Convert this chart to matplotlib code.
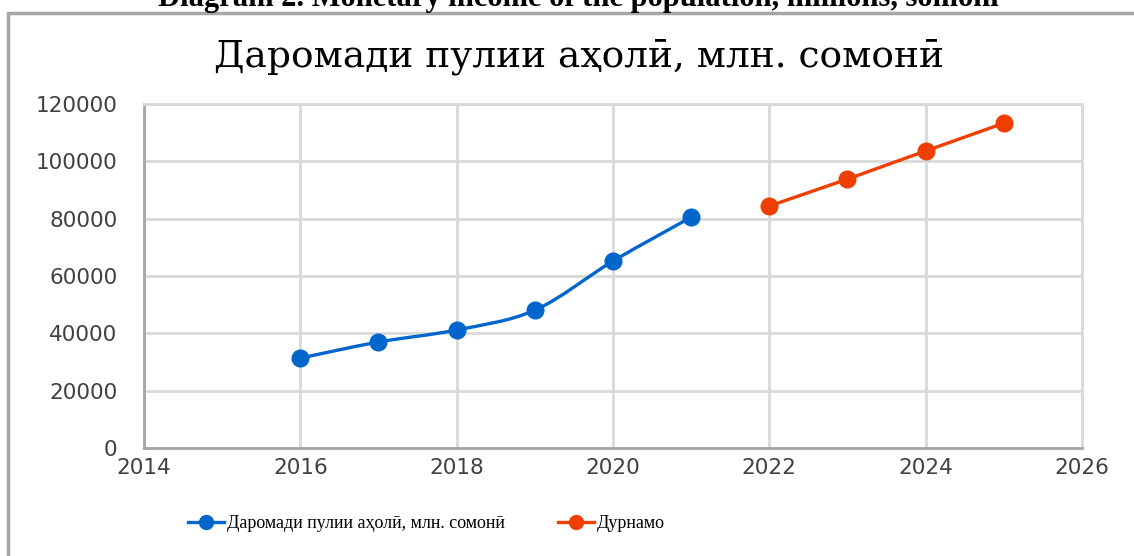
import matplotlib
matplotlib.use("Agg")
import matplotlib.pyplot as plt
from matplotlib.path import Path
from matplotlib.patches import PathPatch, Rectangle
from matplotlib.lines import Line2D

# Data
years_actual = [2016, 2017, 2018, 2019, 2020, 2021]
income_actual = [31400, 37000, 41200, 48100, 65200, 80500]
years_forecast = [2022, 2023, 2024, 2025]
income_forecast = [84400, 93800, 103600, 113300]

x_ticks = [2014, 2016, 2018, 2020, 2022, 2024, 2026]
y_ticks = [0, 20000, 40000, 60000, 80000, 100000, 120000]

title = "Даромади пулии аҳолӣ, млн. сомонӣ"
label_actual = "Даромади пулии аҳолӣ, млн. сомонӣ"
label_forecast = "Дурнамо"
caption = "Diagram 2. Monetary income of the population, millions, somoni"

blue = "#0066CC"
orange = "#EE3F00"
serif = ["DejaVu Serif", "Liberation Serif"]
times = ["Liberation Serif", "DejaVu Serif"]


# Excel style smoothed line: Catmull-Rom segments as cubic Bezier curves
def smooth_path(xs, ys):
    pts = list(zip(xs, ys))
    verts = [pts[0]]
    codes = [Path.MOVETO]
    for i in range(len(pts) - 1):
        p0 = pts[i - 1] if i > 0 else pts[i]
        p1 = pts[i]
        p2 = pts[i + 1]
        p3 = pts[i + 2] if i + 2 < len(pts) else pts[i + 1]
        c1 = (p1[0] + (p2[0] - p0[0]) / 6, p1[1] + (p2[1] - p0[1]) / 6)
        c2 = (p2[0] - (p3[0] - p1[0]) / 6, p2[1] - (p3[1] - p1[1]) / 6)
        verts += [c1, c2, p2]
        codes += [Path.CURVE4] * 3
    return Path(verts, codes)


fig = plt.figure(figsize=(11.34, 5.56), dpi=100)
ax = fig.add_axes([0.127, 0.194, 0.827, 0.619])

# Smoothed actual series plus markers
ax.add_patch(PathPatch(smooth_path(years_actual, income_actual), facecolor="none",
                       edgecolor=blue, lw=2.4, zorder=3, capstyle="round"))
ax.plot(years_actual, income_actual, linestyle="none", marker="o",
        markersize=12, color=blue, zorder=4)

# Forecast series
ax.plot(years_forecast, income_forecast, color=orange, lw=2.4, marker="o",
        markersize=12, zorder=4)

ax.set_xlim(2014, 2026)
ax.set_ylim(0, 120000)
ax.set_xticks(x_ticks)
ax.set_yticks(y_ticks)
ax.set_xticklabels([str(t) for t in x_ticks])
ax.set_yticklabels([str(t) for t in y_ticks])
ax.tick_params(length=0, labelsize=15.5, labelcolor="#404040")
ax.tick_params(axis="x", pad=7)
ax.tick_params(axis="y", pad=19)

# Gridlines
ax.grid(True, color="#D9D9D9", lw=2)
ax.set_axisbelow(True)
for side in ["top", "right"]:
    ax.spines[side].set_color("#D9D9D9")
    ax.spines[side].set_linewidth(2)
for side in ["left", "bottom"]:
    ax.spines[side].set_color("#A6A6A6")
    ax.spines[side].set_linewidth(2)

# Chart title
fig.text(0.511, 1 - 57 / 556, title, ha="center", va="center", fontsize=27, family=serif)

# Legend
handles = [
    Line2D([], [], color=blue, lw=2.4, marker="o", markersize=10),
    Line2D([], [], color=orange, lw=2.4, marker="o", markersize=10),
]
fig.legend(handles, [label_actual, label_forecast], loc="center",
           bbox_to_anchor=(0.376, 0.058), ncol=2, frameon=False,
           prop={"family": times, "size": 13}, handlelength=2.0,
           handletextpad=0.2, columnspacing=2.9)

# Outer chart frame and clipped caption above it
fig.add_artist(Rectangle((8 / 1134, -0.1), 1.2, 1.1 - 13 / 556, transform=fig.transFigure,
                         facecolor="none", edgecolor="#A6A6A6", lw=2.5))
fig.text(0.510, 1 - 6 / 556, caption, ha="center", va="baseline", fontsize=22,
         fontweight="bold", family=times)

fig.savefig("out.png", dpi=100)
